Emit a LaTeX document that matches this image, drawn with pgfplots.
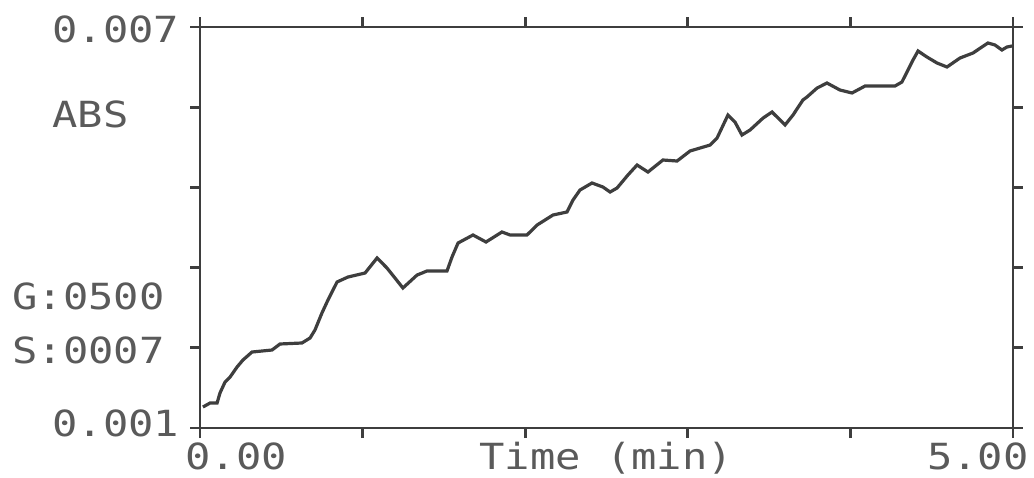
\documentclass[border=0pt]{standalone}
\usepackage{pgfplots}
\pgfplotsset{compat=1.18}
\usepackage{fontspec}
\newfontfamily\plotfont[FakeStretch=1.17]{DejaVu Sans Mono}
\definecolor{ink}{HTML}{3E3E3E}
\definecolor{txt}{HTML}{5A5A5A}
\tikzset{lbl/.style={font=\plotfont\fontsize{18}{20}\selectfont, text=txt, inner sep=0pt, anchor=base west}}
\begin{document}
\begin{tikzpicture}
\path[use as bounding box] (0,0) rectangle (517pt,238.5pt);
\begin{axis}[
  at={(100pt,24.5pt)}, anchor=south west,
  scale only axis, width=406.5pt, height=200.5pt,
  xmin=0, xmax=5, ymin=0.001, ymax=0.007,
  xtick={0,1,2,3,4,5},
  ytick={0.001,0.0022,0.0034,0.0046,0.0058,0.007},
  xticklabels={,,,,,}, yticklabels={,,,,,},
  scaled x ticks=false, scaled y ticks=false,
  tick align=outside, major tick length=5pt,
  axis line style={ink, line width=1.4pt},
  every tick/.style={ink, line width=1.4pt},
  clip=false,
]
\addplot[ink, line width=1.6pt] coordinates {
(0.018,0.001314) (0.062,0.001374) (0.105,0.001374) (0.123,0.001524)
(0.154,0.001688) (0.185,0.001763) (0.228,0.001913) (0.264,0.002017)
(0.320,0.002137) (0.443,0.002167) (0.492,0.002257) (0.627,0.002272)
(0.677,0.002347) (0.707,0.002466) (0.750,0.002721) (0.787,0.002915)
(0.843,0.003185) (0.910,0.003259) (1.015,0.003319) (1.089,0.003544)
(1.150,0.003394) (1.248,0.003095) (1.335,0.003289) (1.396,0.003349)
(1.519,0.003349) (1.550,0.003559) (1.587,0.003768) (1.679,0.003888)
(1.759,0.003783) (1.857,0.003933) (1.907,0.003888) (2.011,0.003888)
(2.073,0.004037) (2.171,0.004187) (2.257,0.004232) (2.294,0.004411)
(2.337,0.004561) (2.411,0.004666) (2.478,0.004606) (2.522,0.004531)
(2.565,0.004591) (2.632,0.004786) (2.688,0.004935) (2.755,0.004830)
(2.847,0.005010) (2.934,0.004995) (3.014,0.005145) (3.137,0.005234)
(3.180,0.005339) (3.247,0.005683) (3.290,0.005579) (3.333,0.005384)
(3.383,0.005459) (3.463,0.005638) (3.518,0.005728) (3.598,0.005534)
(3.647,0.005683) (3.708,0.005908) (3.733,0.005953) (3.795,0.006087)
(3.856,0.006162) (3.936,0.006057) (4.010,0.006013) (4.090,0.006117)
(4.274,0.006117) (4.317,0.006177) (4.348,0.006327) (4.385,0.006506)
(4.416,0.006641) (4.471,0.006551) (4.533,0.006461) (4.594,0.006402)
(4.674,0.006536) (4.754,0.006611) (4.846,0.006761) (4.889,0.006731)
(4.932,0.006656) (4.963,0.006701) (4.994,0.006716)
};
\node[lbl] at (axis description cs:-0.182,0.9626) {0.007};
\node[lbl] at (axis description cs:-0.182,0.7506) {ABS};
\node[lbl] at (axis description cs:-0.2312,0.2943) {G:0500};
\node[lbl] at (axis description cs:-0.2312,0.1621) {S:0007};
\node[lbl] at (axis description cs:-0.182,-0.0224) {0.001};
\node[lbl] at (axis description cs:-0.0185,-0.104) {0.00};
\node[lbl] at (axis description cs:0.3432,-0.104) {Time (min)};
\node[lbl] at (axis description cs:0.894,-0.104) {5.00};
\end{axis}
\end{tikzpicture}
\end{document}
